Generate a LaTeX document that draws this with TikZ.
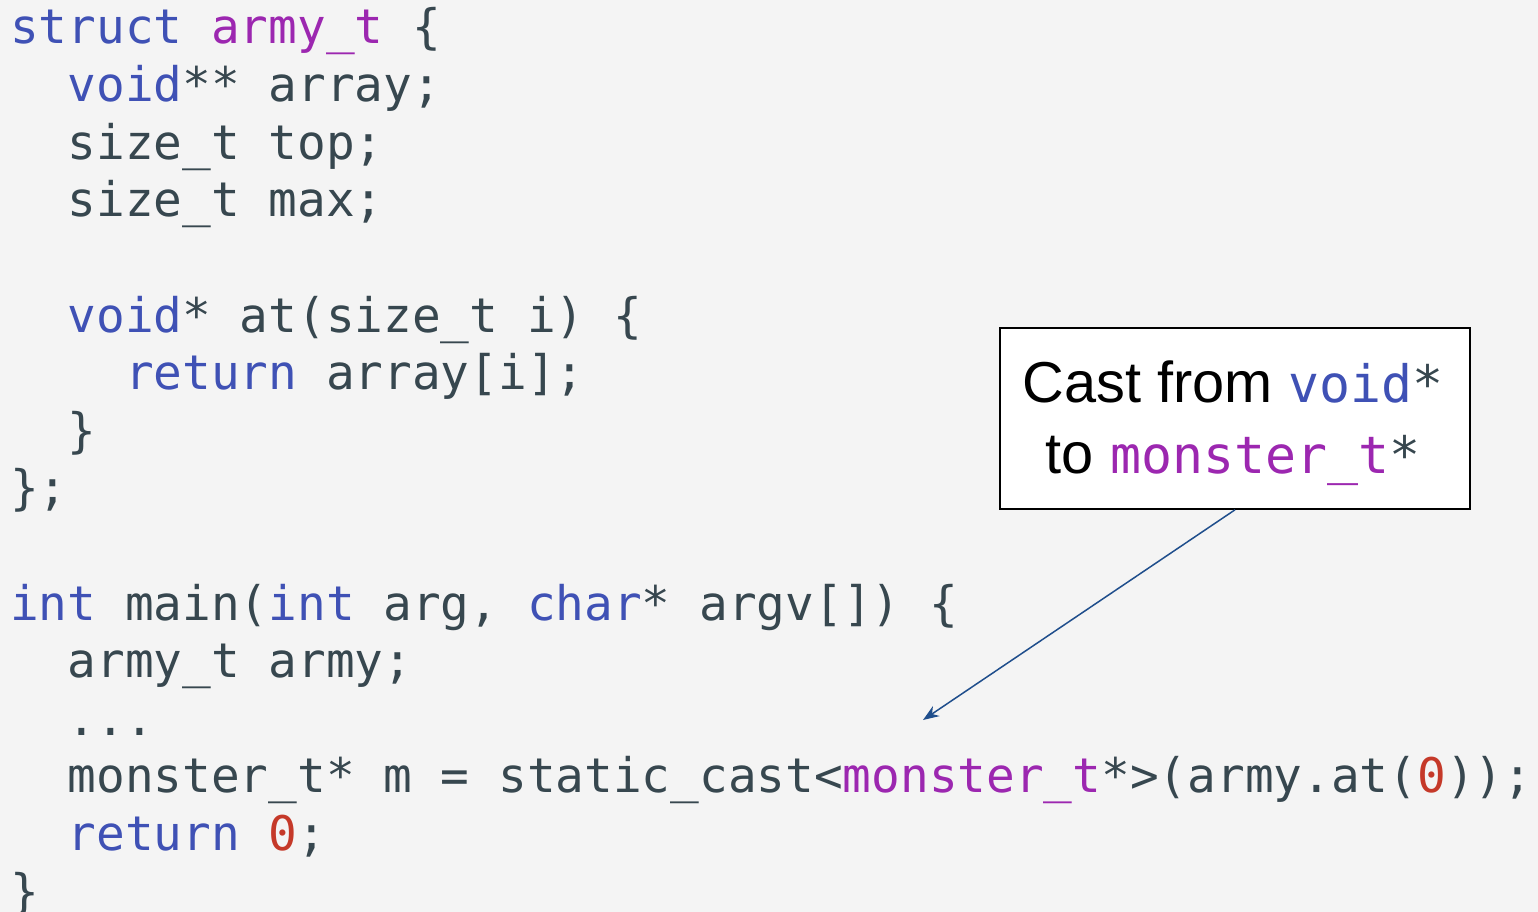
\documentclass[tikz,border=0pt]{standalone}
\usepackage{fontspec}
\setmainfont{Liberation Sans}
\newfontfamily\codefont{DejaVu Sans Mono}
\usetikzlibrary{arrows.meta}
\definecolor{bgc}{HTML}{F4F4F4}
\definecolor{codedark}{HTML}{37474F}
\definecolor{kwblue}{HTML}{3F51B5}
\definecolor{typurple}{HTML}{9C27B0}
\definecolor{numred}{HTML}{C53929}
\definecolor{arrowblue}{HTML}{1F4E8C}
\newcommand{\ckw}[1]{\textcolor{kwblue}{#1}}
\newcommand{\cty}[1]{\textcolor{typurple}{#1}}
\newcommand{\cnum}[1]{\textcolor{numred}{#1}}
\tikzset{
  codeline/.style={anchor=base west, inner sep=0pt, text=codedark,
    font=\codefont\fontsize{47.7}{57.6}\selectfont},
  callout/.style={draw=black, line width=1.6pt, fill=white, inner sep=0pt,
    minimum width=470pt, minimum height=181pt},
  callouttext/.style={anchor=base, inner sep=0pt, text=black,
    font=\fontsize{57.7}{71}\selectfont},
  pointer/.style={draw=arrowblue, line width=1.5pt,
    -{Stealth[length=16pt,width=12pt]}}
}
\newcommand{\cm}[1]{{\codefont\fontsize{51.5}{71}\selectfont #1}}
\begin{document}
\begin{tikzpicture}[x=1pt,y=-1pt]
\fill[bgc] (0,0) rectangle (1538,912);
\useasboundingbox (0,0) rectangle (1538,912);
\def\cw{28.7}
\def\lh{57.6}
\def\by{44}
\node[codeline] (l0)  at (10,\by+0*\lh) {\ckw{struct} \cty{army\_t} \{};
\node[codeline] (l1)  at (10+2*\cw,\by+1*\lh) {\ckw{void}** array;};
\node[codeline] (l2)  at (10+2*\cw,\by+2*\lh) {size\_t top;};
\node[codeline] (l3)  at (10+2*\cw,\by+3*\lh) {size\_t max;};
\node[codeline] (l5)  at (10+2*\cw,\by+5*\lh) {\ckw{void}* at(size\_t i) \{};
\node[codeline] (l6)  at (10+4*\cw,\by+6*\lh) {\ckw{return} array[i];};
\node[codeline] (l7)  at (10+2*\cw,\by+7*\lh) {\}};
\node[codeline] (l8)  at (10,\by+8*\lh) {\};};
\node[codeline] (l10) at (10,\by+10*\lh) {\ckw{int} main(\ckw{int} arg, \ckw{char}* argv[]) \{};
\node[codeline] (l11) at (10+2*\cw,\by+11*\lh) {army\_t army;};
\node[codeline] (l12) at (10+2*\cw,\by+12*\lh) {...};
\node[codeline] (l13) at (10+2*\cw,\by+13*\lh) {monster\_t* m = static\_cast<\cty{monster\_t}*>(army.at(\cnum{0}));};
\node[codeline] (l14) at (10+2*\cw,\by+14*\lh) {\ckw{return} \cnum{0};};
\node[codeline] (l15) at (10,\by+15*\lh) {\}};

\node[callout] (box) at (1235,418.5) {};
\node[callouttext] (t1) at (1233,402) {Cast from \cm{\textcolor{kwblue}{void}\textcolor{codedark}{*}}};
\node[callouttext] (t2) at (1233,473) {to \cm{\textcolor{typurple}{monster\_t}\textcolor{codedark}{*}}};
\coordinate (target) at (923,720);
\draw[pointer] (box.south) -- (target);
\end{tikzpicture}
\end{document}
